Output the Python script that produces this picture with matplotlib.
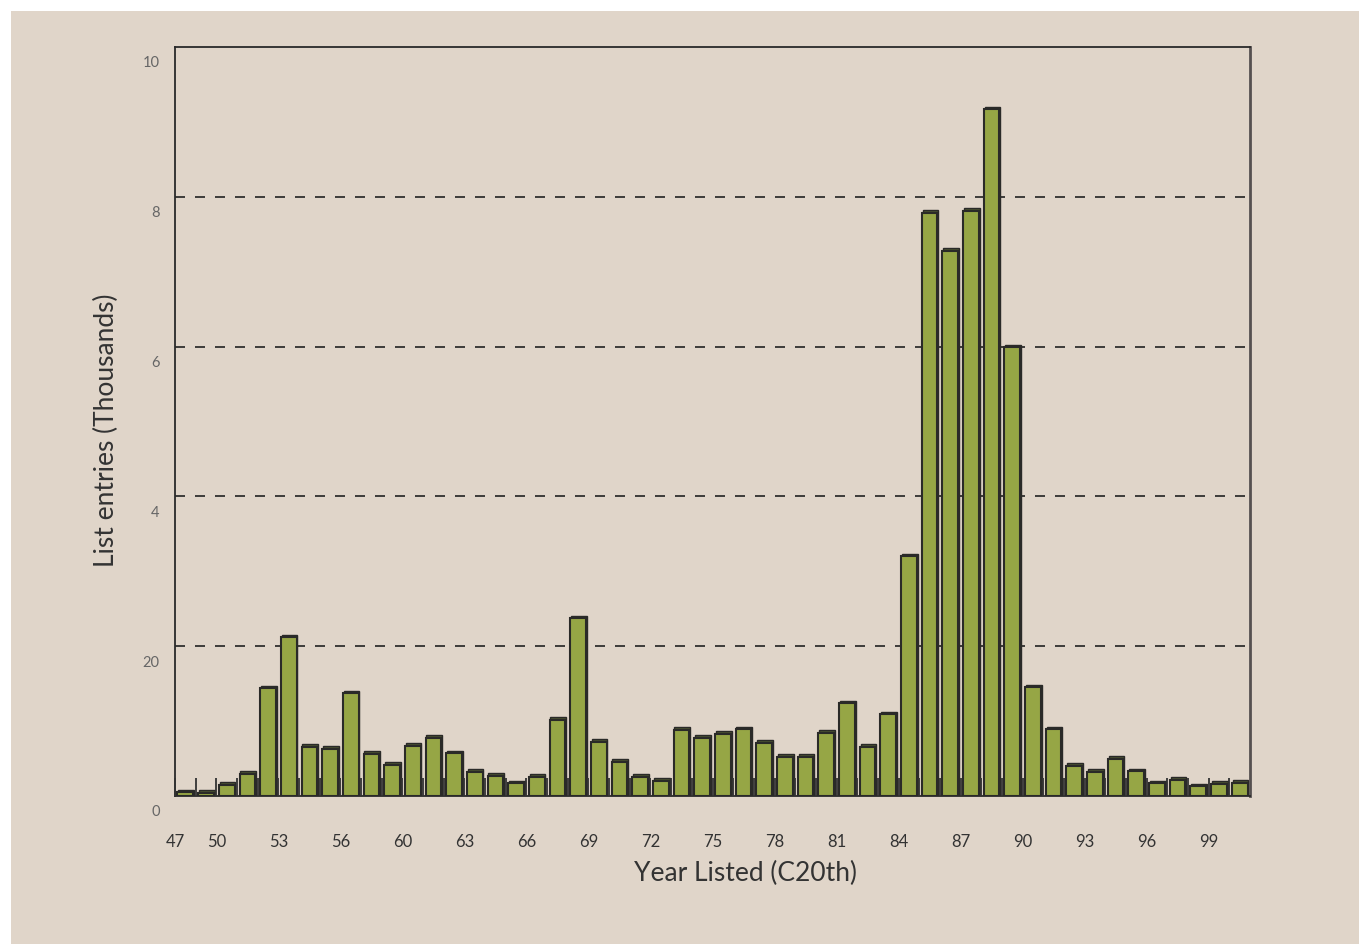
import numpy as np
import matplotlib
matplotlib.use('Agg')
import matplotlib.pyplot as plt
import matplotlib.transforms as mtransforms
from matplotlib.patches import Rectangle

# list entries per year, thousands
entries = [0.05, 0.04, 0.15, 0.30, 1.44, 2.12, 0.66, 0.63, 1.37, 0.56,
           0.42, 0.67, 0.78, 0.57, 0.32, 0.27, 0.17, 0.26, 1.02, 2.37,
           0.72, 0.46, 0.26, 0.20, 0.88, 0.78, 0.83, 0.89, 0.71, 0.52,
           0.52, 0.84, 1.24, 0.66, 1.09, 3.20, 7.79, 7.28, 7.81, 9.17,
           5.99, 1.45, 0.89, 0.40, 0.32, 0.50, 0.33, 0.17, 0.22, 0.13,
           0.16, 0.18]
x_labels = ['47', '50', '53', '56', '60', '63', '66', '69', '72', '75',
            '78', '81', '84', '87', '90', '93', '96', '99']
y_ticks = [0, 2, 4, 6, 8, 10]
y_labels = ['0', '20', '4', '6', '8', '10']

bg = '#e0d5c9'
edge = '#2a2a28'

plt.rcParams['font.family'] = ['Lato', 'DejaVu Sans']

fig = plt.figure(figsize=(13.59, 9.45), dpi=100, facecolor='white')
fig.patches.append(Rectangle((11 / 1359, 0), 1, 1 - 12 / 945, transform=fig.transFigure,
                             facecolor=bg, edgecolor='none', zorder=-10))

ax = fig.add_axes([175 / 1359, 1 - 797 / 945, 1075 / 1359, 749 / 945])
ax.set_facecolor(bg)
ax.set_axisbelow(False)

x = np.arange(len(entries))
w = 0.76
# back face to give the bars a bit of depth
ax.bar(x + 0.04, np.array(entries) + 0.035, width=w, color='#4b5231',
       edgecolor=edge, linewidth=1.0, zorder=1.2)
ax.bar(x, entries, width=w, color='#96a645', edgecolor=edge, linewidth=1.5, zorder=1.4)

ax.set_xlim(-0.5, len(entries) - 0.5)
ax.set_ylim(0, 10)

for v in [2, 4, 6, 8]:
    ax.axhline(v, color='#222222', linestyle=(0, (6, 6)), linewidth=1.2, zorder=0.5)

major = [-0.5] + [1.5 + 3 * i for i in range(len(x_labels) - 1)]
ax.set_xticks(major)
ax.set_xticklabels(x_labels, fontsize=12, color='#333333')
ax.set_xticks(np.arange(0.5, len(entries) - 1, 1.0), minor=True)
ax.tick_params(axis='x', which='both', direction='in', length=13, width=1.3,
               color='#333333', pad=27)

ax.set_yticks(y_ticks)
ax.set_yticklabels(y_labels, fontsize=10.5, color='#666666')
ax.tick_params(axis='y', length=0, pad=11)
offset = mtransforms.ScaledTranslation(0, -0.14, fig.dpi_scale_trans)
for lab in ax.get_yticklabels():
    lab.set_transform(lab.get_transform() + offset)

for s in ['left', 'bottom', 'top']:
    ax.spines[s].set_color('#2a2a2a')
    ax.spines[s].set_linewidth(1.3)
ax.spines['right'].set_color('#555050')
ax.spines['right'].set_linewidth(2)

ax.set_xlabel('Year Listed (C20th)', fontsize=19, color='#333333')
ax.xaxis.set_label_coords((745 - 175) / 1075, -(873 - 797) / 749)
ax.xaxis.label.set_va('center')
ax.set_ylabel('List entries (Thousands)', fontsize=19, color='#333333')
ax.yaxis.set_label_coords((106 - 175) / 1075, 0.49)
ax.yaxis.label.set_va('center')

fig.savefig('out.png', dpi=100, facecolor=fig.get_facecolor())
